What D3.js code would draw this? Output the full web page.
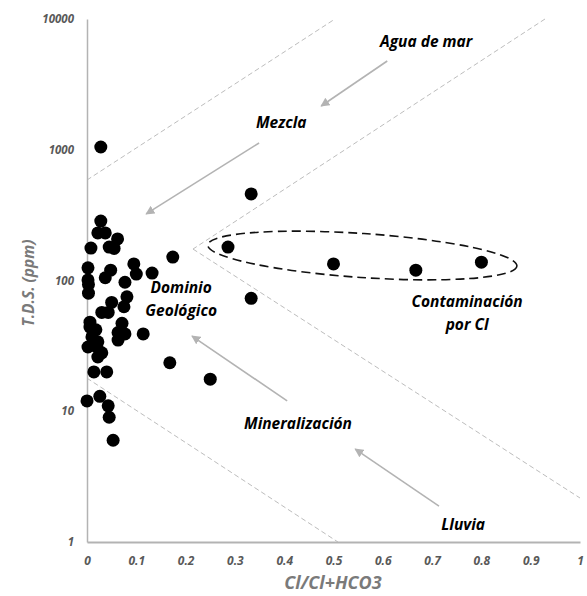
<!DOCTYPE html>
<html><head><meta charset="utf-8">
<script src="https://cdn.jsdelivr.net/npm/d3@7"></script>
<style>body{margin:0;background:#fff}svg{display:block}</style>
</head><body>
<svg id="c" width="587" height="596"></svg>
<script>
// ---- data ----
const ratio = [0.028,0.028,0.022,0.037,0.062,0.008,0.045,0.055,0.095,0.174,0.002,0.002,0.037,0.100,0.132,0.003,0.003,0.077,0.050,0.081,0.075,0.030,0.043,0.006,0.018,0.071,0.063,0.077,0.063,0.114,0.002,0.020,0.022,0.030,0.014,0.040,0.000,0.026,0.043,0.045,0.053,0.168,0.250,0.333,0.286,0.500,0.667,0.800,0.333,0.006,0.022,0.010,0.048];
const tds   = [1050,285,231,231,208,177,180,176,134,151,125,101,105,112,114,93,80,97,68,75,63,57,57,44,42,47,40,39,35,39,31,31,26,28,20,20,12,13,11,9,6,23.5,17.6,459,180,134,120,138,73,48,34,37,120];
const xTicks = [0,0.1,0.2,0.3,0.4,0.5,0.6,0.7,0.8,0.9,1];
const yTicks = [1,10,100,1000,10000];
// dashed boundary lines [x1,y1,x2,y2] in data units
const bounds = [
  [0,587,0.503,10000],
  [0.929,10000,0.215,174],
  [0.215,174,1.0,2.17],
  [0,17.9,0.509,1]
];
// arrows [xFrom,yFrom,xTo,yTo]
const arrows = [
  [0.609,4775,0.475,2161],
  [0.349,1127,0.120,323],
  [0.406,12.0,0.213,37.6],
  [0.714,1.88,0.544,5.14]
];
// zone labels
const labelText = [["Agua de mar"],["Mezcla"],["Dominio","Geológico"],["Contaminación","por Cl"],["Mineralización"],["Lluvia"]];
const labelX = [0.688,0.394,0.191,0.771,0.428,0.763];
const labelY = [6670,1602,87.6,68.5,8.0,1.37];
// ellipse ends (data)
const ellipseEnds = [[0.245,187],[0.872,129]];

// ---- chart ----
const svg = d3.select("#c");
const x = d3.scaleLinear().domain([0,1]).range([87,580]);
const y = d3.scaleLog().domain([1,10000]).range([542,19]);
const font = "'Open Sans', 'DejaVu Sans', sans-serif";
const gridGrey = "#b3b3b3";

// boundary dashed lines
svg.append("g").selectAll("line").data(bounds).join("line")
  .attr("x1",d=>x(d[0])).attr("y1",d=>y(d[1]))
  .attr("x2",d=>x(d[2])).attr("y2",d=>y(d[3]))
  .attr("stroke","#bdbdbd").attr("stroke-width",1).attr("stroke-dasharray","5,3");

// axes
const xAxis = d3.axisBottom(x).tickValues(xTicks).tickSize(0).tickPadding(14)
  .tickFormat(d=>d===0||d===1?String(d):d3.format(".1f")(d));
const gx = svg.append("g").attr("transform","translate(0,542)").call(xAxis);
gx.select(".domain").attr("stroke",gridGrey).attr("stroke-width",2);
gx.selectAll("text").attr("fill","#595959").style("font-family",font)
  .style("font-size","12px").style("font-weight","bold").style("font-style","italic");

const yAxis = d3.axisLeft(y).tickValues(yTicks).tickSize(0).tickPadding(13).tickFormat(d3.format("d"));
const gy = svg.append("g").attr("transform","translate(87,0)").call(yAxis);
gy.select(".domain").attr("stroke",gridGrey).attr("stroke-width",1.5);
gy.selectAll("text").attr("fill","#595959").style("font-family",font)
  .style("font-size","11.5px").style("font-weight","bold").style("font-style","italic");

// axis titles
svg.append("text").attr("x",333).attr("y",589).attr("text-anchor","middle")
  .attr("fill","#7a7a7a").style("font-family",font).style("font-size","18px")
  .style("font-weight","bold").style("font-style","italic").text("Cl/Cl+HCO3");
svg.append("text").attr("transform","translate(34,283) rotate(-90)").attr("text-anchor","middle")
  .attr("fill","#7a7a7a").style("font-family",font).style("font-size","15.5px")
  .style("font-weight","bold").style("font-style","italic").text("T.D.S. (ppm)");

// arrows
svg.append("defs").append("marker").attr("id","ah").attr("viewBox","0 0 10 10")
  .attr("refX",9).attr("refY",5).attr("markerWidth",9).attr("markerHeight",9)
  .attr("markerUnits","userSpaceOnUse").attr("orient","auto")
  .append("path").attr("d","M0,0L10,5L0,10Z").attr("fill","#b3b3b3");
svg.append("g").selectAll("line").data(arrows).join("line")
  .attr("x1",d=>x(d[0])).attr("y1",d=>y(d[1]))
  .attr("x2",d=>x(d[2])).attr("y2",d=>y(d[3]))
  .attr("stroke","#b3b3b3").attr("stroke-width",1.6).attr("marker-end","url(#ah)");

// points
svg.append("g").selectAll("circle").data(ratio.map((r,i)=>[r,tds[i]])).join("circle")
  .attr("cx",d=>x(d[0])).attr("cy",d=>y(d[1])).attr("r",6.5).attr("fill","#000");

// ellipse
const [e1,e2] = ellipseEnds;
const ex1=x(e1[0]), ey1=y(e1[1]), ex2=x(e2[0]), ey2=y(e2[1]);
const ecx=(ex1+ex2)/2, ecy=(ey1+ey2)/2;
const erx=Math.hypot(ex2-ex1,ey2-ey1)/2;
const eang=Math.atan2(ey2-ey1,ex2-ex1)*180/Math.PI;
svg.append("ellipse").attr("cx",0).attr("cy",0).attr("rx",erx).attr("ry",22)
  .attr("transform",`translate(${ecx},${ecy}) rotate(${eang})`)
  .attr("fill","none").attr("stroke","#111").attr("stroke-width",1.6).attr("stroke-dasharray","9,5");

// zone labels
const lg = svg.append("g");
labelText.forEach((lines,i)=>{
  const t = lg.append("text").attr("x",x(labelX[i])).attr("y",y(labelY[i]))
    .attr("text-anchor","middle").attr("fill","#000").style("font-family",font)
    .style("font-size","15.5px").style("font-weight","bold").style("font-style","italic");
  lines.forEach((l,j)=>{
    t.append("tspan").attr("x",x(labelX[i])).attr("dy", j===0? "0.35em" : "1.45em").text(l);
  });
});
</script>
</body></html>
